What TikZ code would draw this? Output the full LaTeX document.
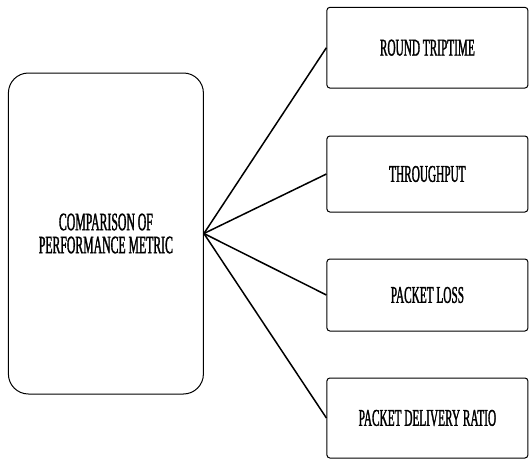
\documentclass[tikz,border=0pt]{standalone}
\usepackage{fontspec}
\newfontfamily\narrowtimes[FakeStretch=0.47, FakeBold=1.2]{Liberation Serif}
\usepackage{tikz}
\tikzstyle{metricbox} = [rectangle, rounded corners=20pt, minimum width=195pt, minimum height=321pt, align=center, draw=black, line width=1pt, font=\narrowtimes\fontsize{25}{23}\selectfont]
\tikzstyle{process} = [rectangle, rounded corners=3pt, minimum width=201pt, text centered, draw=black, line width=1pt, font=\narrowtimes\fontsize{24}{24}\selectfont]
\tikzstyle{line} = [line width=1.5pt]

\begin{document}
\begin{tikzpicture}[x=1pt, y=-1pt]
        \useasboundingbox (0,0) rectangle (530,459);

        % Boxes
        \node (metric) [metricbox] at (105.9,233.5) {COMPARISON OF\\PERFORMANCE METRIC};
        \node (rtt) [process, minimum height=80.7pt] at (427.4,47.7) {ROUND TRIPTIME};
        \node (thru) [process, minimum height=76pt] at (427.4,174) {THROUGHPUT};
        \node (loss) [process, minimum height=72pt] at (427.4,295) {PACKET LOSS};
        \node (pdr) [process, minimum height=80pt] at (427.4,418) {PACKET DELIVERY RATIO};

        % Connections
        \draw [line] (metric.east) -- (rtt.west);
        \draw [line] (metric.east) -- (thru.west);
        \draw [line] (metric.east) -- (loss.west);
        \draw [line] (metric.east) -- (pdr.west);

\end{tikzpicture}
\end{document}
